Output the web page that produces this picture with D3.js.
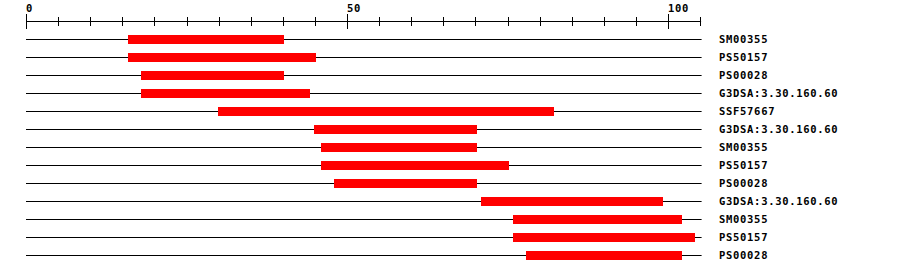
<!DOCTYPE html>
<html>
<head>
<meta charset="utf-8">
<script src="https://cdn.jsdelivr.net/npm/d3@7"></script>
<style>
  body { margin:0; background:#fff; }
  text { font-family:"DejaVu Sans Mono", monospace; font-weight:bold; font-size:10.5px; letter-spacing:0.7px; fill:#000; }
</style>
</head>
<body>
<script>
// domain hits, one per row
var labels = ['SM00355','PS50157','PS00028','G3DSA:3.30.160.60','SSF57667','G3DSA:3.30.160.60',
  'SM00355','PS50157','PS00028','G3DSA:3.30.160.60','SM00355','PS50157','PS00028'];
var starts = [16,16,18,18,30,45,46,46,48,71,76,76,78];
var ends   = [40,45,40,44,82,70,70,75,70,99,102,104,102];
var seqLength = 105;
var majorTicks = [0,50,100];
var minorTicks = d3.range(0, seqLength+1, 5);

var svg = d3.select('body').append('svg').attr('width',900).attr('height',274);
var x = d3.scaleLinear().domain([0,100]).range([26.5,668.5]);
var rowY = function(i){ return 39.5 + i*18; };

// axis
var axis = svg.append('g');
axis.append('line').attr('x1',x(0)).attr('x2',x(seqLength)+0.5).attr('y1',21.5).attr('y2',21.5)
  .style('stroke','#000');
axis.selectAll('.minor').data(minorTicks).enter().append('line')
  .attr('x1',function(d){ return Math.round(x(d)-0.5)+0.5; }).attr('x2',function(d){ return Math.round(x(d)-0.5)+0.5; })
  .attr('y1',function(d){ return majorTicks.indexOf(d)>=0 ? 14 : 17; })
  .attr('y2',function(d){ return majorTicks.indexOf(d)>=0 ? 29 : 26; })
  .style('stroke','#000');
axis.selectAll('.lab').data(majorTicks).enter().append('text')
  .attr('x',function(d){ return x(d)-0.5; }).attr('y',12).text(function(d){ return d; });

// rows
var rows = svg.selectAll('.row').data(labels).enter().append('g').attr('class','row');
rows.append('line').attr('x1',x(0)-0.5).attr('x2',x(seqLength)+1)
  .attr('y1',function(d,i){ return rowY(i); }).attr('y2',function(d,i){ return rowY(i); })
  .style('stroke','#000');
rows.append('rect')
  .attr('x',function(d,i){ return Math.round(x(starts[i]))-1; })
  .attr('width',function(d,i){ return Math.round(x(ends[i])) - Math.round(x(starts[i])) + 2; })
  .attr('y',function(d,i){ return rowY(i)-4.5; }).attr('height',9)
  .style('fill','#ff0000');
rows.append('text').attr('x',719)
  .attr('y',function(d,i){ return rowY(i)+3.5; })
  .text(function(d){ return d; });
</script>
</body>
</html>
